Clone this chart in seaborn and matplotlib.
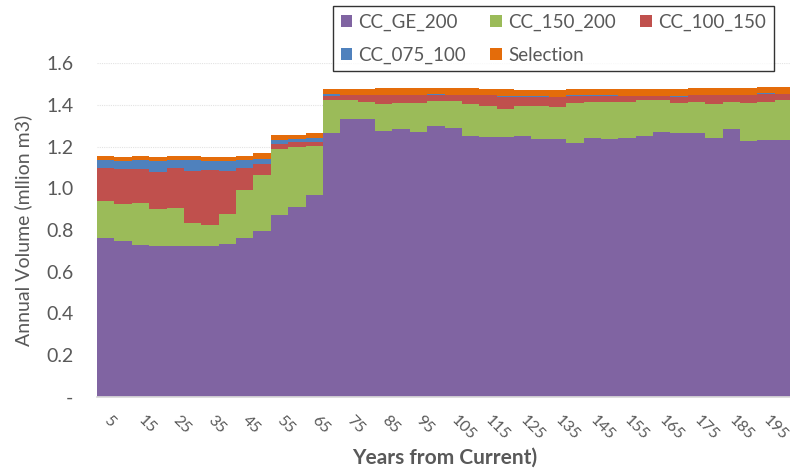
import numpy as np
import matplotlib
matplotlib.use("Agg")
import matplotlib.pyplot as plt
import seaborn as sns

# 5-year periods, labelled by their end year
years = [5 * (i + 1) for i in range(40)]

cc_ge_200 = [0.763, 0.746, 0.727, 0.725, 0.725, 0.725, 0.725, 0.731, 0.763, 0.795,
             0.873, 0.912, 0.969, 1.263, 1.332, 1.332, 1.273, 1.284, 1.268, 1.300,
             1.290, 1.252, 1.247, 1.247, 1.252, 1.236, 1.236, 1.215, 1.241, 1.236,
             1.241, 1.252, 1.268, 1.263, 1.263, 1.241, 1.284, 1.226, 1.231, 1.231]
cc_150_200 = [0.176, 0.177, 0.201, 0.176, 0.180, 0.107, 0.101, 0.147, 0.229, 0.270,
              0.315, 0.287, 0.235, 0.160, 0.091, 0.080, 0.129, 0.123, 0.139, 0.118,
              0.128, 0.150, 0.148, 0.133, 0.143, 0.159, 0.155, 0.192, 0.171, 0.176,
              0.171, 0.171, 0.155, 0.144, 0.149, 0.161, 0.128, 0.181, 0.181, 0.192]
cc_100_150 = [0.159, 0.169, 0.164, 0.175, 0.193, 0.251, 0.261, 0.205, 0.106, 0.049,
              0.025, 0.021, 0.018, 0.019, 0.022, 0.033, 0.046, 0.041, 0.041, 0.030,
              0.030, 0.043, 0.050, 0.059, 0.044, 0.044, 0.045, 0.035, 0.030, 0.030,
              0.030, 0.019, 0.019, 0.032, 0.033, 0.043, 0.036, 0.038, 0.040, 0.029]
cc_075_100 = [0.037, 0.037, 0.043, 0.053, 0.037, 0.052, 0.043, 0.047, 0.037, 0.026,
              0.018, 0.016, 0.017, 0.010, 0.001, 0.001, 0.001, 0.001, 0.001, 0.002,
              0.001, 0.001, 0.001, 0.005, 0.001, 0.001, 0.001, 0.003, 0.003, 0.003,
              0.001, 0.001, 0.001, 0.003, 0.003, 0.001, 0.001, 0.003, 0.003, 0.001]
selection = [0.021, 0.019, 0.021, 0.019, 0.021, 0.021, 0.021, 0.021, 0.021, 0.027,
             0.026, 0.021, 0.024, 0.023, 0.029, 0.029, 0.033, 0.033, 0.033, 0.032,
             0.033, 0.036, 0.029, 0.031, 0.031, 0.031, 0.034, 0.030, 0.030, 0.030,
             0.032, 0.032, 0.032, 0.033, 0.034, 0.036, 0.033, 0.034, 0.031, 0.033]

series_names = ["CC_GE_200", "CC_150_200", "CC_100_150", "CC_075_100", "Selection"]
colors = ["#8064A2", "#9BBB59", "#C0504D", "#4F81BD", "#E46C0A"]

y_ticks = [0.0, 0.2, 0.4, 0.6, 0.8, 1.0, 1.2, 1.4, 1.6]

sns.set_theme(style="white")
plt.rcParams["font.family"] = ["Lato", "DejaVu Sans"]
text_grey = "#595959"

fig = plt.figure(figsize=(7.9, 4.72), dpi=100)
ax = fig.add_axes([97 / 790, 75 / 472, 695 / 790, 334 / 472])

data = [cc_ge_200, cc_150_200, cc_100_150, cc_075_100, selection]
edges = np.arange(len(years) + 1)
stacked = [list(s) + [s[-1]] for s in data]
ax.stackplot(edges, *stacked, colors=colors, labels=series_names,
             step="post", linewidth=0, zorder=2)

ax.set_xlim(0, len(years))
ax.set_ylim(0, 1.6)
ax.set_yticks(y_ticks)
ax.set_yticklabels(["-" if v == 0 else f"{v:.1f}" for v in y_ticks])
ax.yaxis.grid(True, color="#E3E3E3", linewidth=0.8, linestyle=(0, (1, 1)), zorder=0)
ax.xaxis.grid(False)
ax.set_axisbelow(True)

tick_idx = list(range(0, len(years), 2))
ax.set_xticks([i + 0.5 for i in tick_idx])
ax.set_xticklabels([str(years[i]) for i in tick_idx], rotation=-45,
                   ha="left", va="center", rotation_mode="anchor")
ax.tick_params(axis="x", length=0, pad=15, labelsize=11.5, labelcolor=text_grey)
ax.tick_params(axis="y", length=0, pad=17, labelsize=14, labelcolor=text_grey)

for side in ["top", "right", "left"]:
    ax.spines[side].set_visible(False)
ax.spines["bottom"].set_color("#D9D9D9")
ax.spines["bottom"].set_zorder(3)

ax.set_ylabel("Annual Volume (mllion m3)", fontsize=14, color=text_grey, labelpad=10)
ax.set_xlabel("Years from Current)", fontsize=15, fontweight="bold",
              color=text_grey, labelpad=4)

handles, labels = ax.get_legend_handles_labels()
order = [0, 3, 1, 4, 2]
leg = fig.legend([handles[i] for i in order], [labels[i] for i in order],
                 loc="upper left", bbox_to_anchor=(333 / 790, 1 - 6 / 472),
                 ncol=3, frameon=True, fancybox=False, fontsize=13.5,
                 handlelength=0.6, handleheight=0.6, handletextpad=0.35,
                 columnspacing=1.3, borderpad=0.4, labelspacing=0.85,
                 borderaxespad=0, labelcolor=text_grey)
leg.get_frame().set_edgecolor("#000000")
leg.get_frame().set_linewidth(1.0)

fig.savefig("out.png", dpi=100)
